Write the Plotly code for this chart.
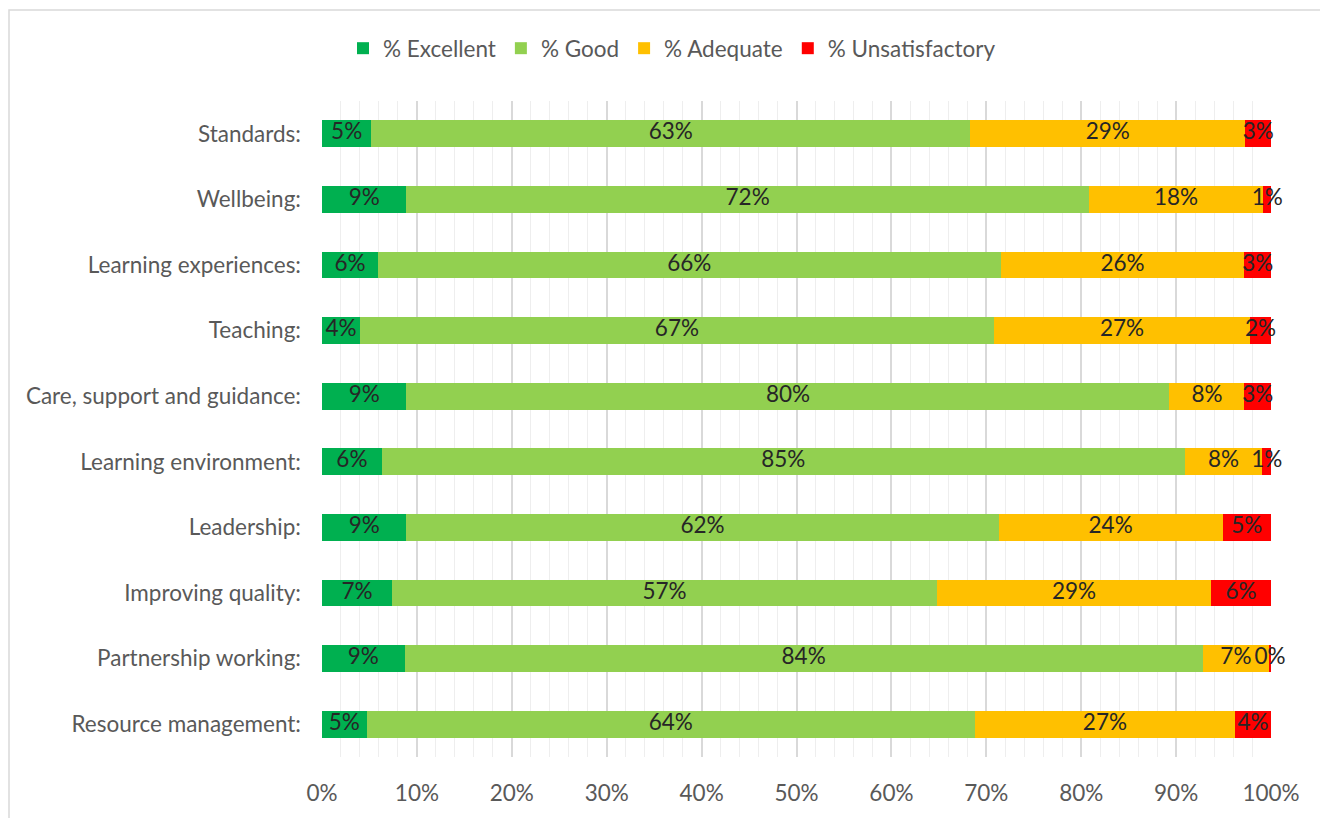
import plotly.graph_objects as go

categories = ["Standards:", "Wellbeing:", "Learning experiences:", "Teaching:",
              "Care, support and guidance:", "Learning environment:", "Leadership:",
              "Improving quality:", "Partnership working:", "Resource management:"]
excellent = [5.2, 8.9, 5.9, 4.0, 8.9, 6.3, 8.9, 7.4, 8.7, 4.7]
good = [63.1, 71.9, 65.6, 66.8, 80.4, 84.6, 62.4, 57.4, 84.1, 64.1]
adequate = [29.0, 18.4, 25.7, 27.0, 7.9, 8.2, 23.6, 28.9, 7.0, 27.4]
unsatisfactory = [2.7, 0.8, 2.8, 2.2, 2.8, 0.9, 5.1, 6.3, 0.2, 3.8]

series = [("% Excellent", excellent, "#00B050"),
          ("% Good", good, "#92D050"),
          ("% Adequate", adequate, "#FFC000"),
          ("% Unsatisfactory", unsatisfactory, "#FF0000")]

FONT = "Lato"
FS = 22.5
fig = go.Figure()
base = [0.0] * len(categories)
for name, vals, color in series:
    fig.add_trace(go.Bar(
        y=categories, x=vals, name=name, orientation="h",
        marker=dict(color=color, line=dict(width=0)),
        textposition="none", hoverinfo="skip",
    ))
    centers = [b + v / 2 for b, v in zip(base, vals)]
    fig.add_trace(go.Scatter(
        y=categories, x=centers, mode="text",
        text=[f"{v:.0f}%" for v in vals],
        textposition="middle center",
        textfont=dict(family=FONT, size=FS, color="#262626"),
        showlegend=False, hoverinfo="skip", cliponaxis=False,
    ))
    base = [b + v for b, v in zip(base, vals)]

# page body has an 8px margin; work in screen pixels and shift by it
OFF = 8
W, H = 1328 - OFF, 818 - OFF
L, R, T, B = 322 - OFF, 1328 - 1271, 101 - OFF, 818 - 764
pw, ph = W - L - R, H - T - B

def px_x(p):
    return (p - OFF - L) / pw

def px_y(p):
    return (H - B - (p - OFF)) / ph

fig.update_layout(
    width=W, height=H, barmode="stack", bargap=0.59,
    plot_bgcolor="white", paper_bgcolor="white",
    margin=dict(l=L, r=R, t=T, b=B),
    font=dict(family=FONT, size=FS, color="#595959"),
    legend=dict(orientation="h", x=px_x(672), xanchor="center",
                y=px_y(48), yanchor="middle", traceorder="normal",
                font=dict(family=FONT, size=FS, color="#595959"),
                itemwidth=30),
    xaxis=dict(range=[0, 100], dtick=10, ticksuffix="%", showgrid=True,
               gridcolor="#d9d9d9", gridwidth=1.5, zeroline=False,
               showline=False, ticks="", ticklabelstandoff=20,
               minor=dict(dtick=2, showgrid=True, gridcolor="#eeeeee", gridwidth=1),
               tickfont=dict(family=FONT, size=FS, color="#595959"), fixedrange=True),
    yaxis=dict(categoryorder="array", categoryarray=categories, autorange="reversed",
               showgrid=False, showline=False, ticks="", ticklabelstandoff=20,
               tickfont=dict(family=FONT, size=FS, color="#595959"), fixedrange=True),
    shapes=[dict(type="rect", xref="paper", yref="paper",
                 x0=px_x(9), x1=px_x(1326), y0=px_y(840), y1=px_y(9),
                 line=dict(color="#d9d9d9", width=1.5), layer="below")],
)

fig.write_html("out.html")
